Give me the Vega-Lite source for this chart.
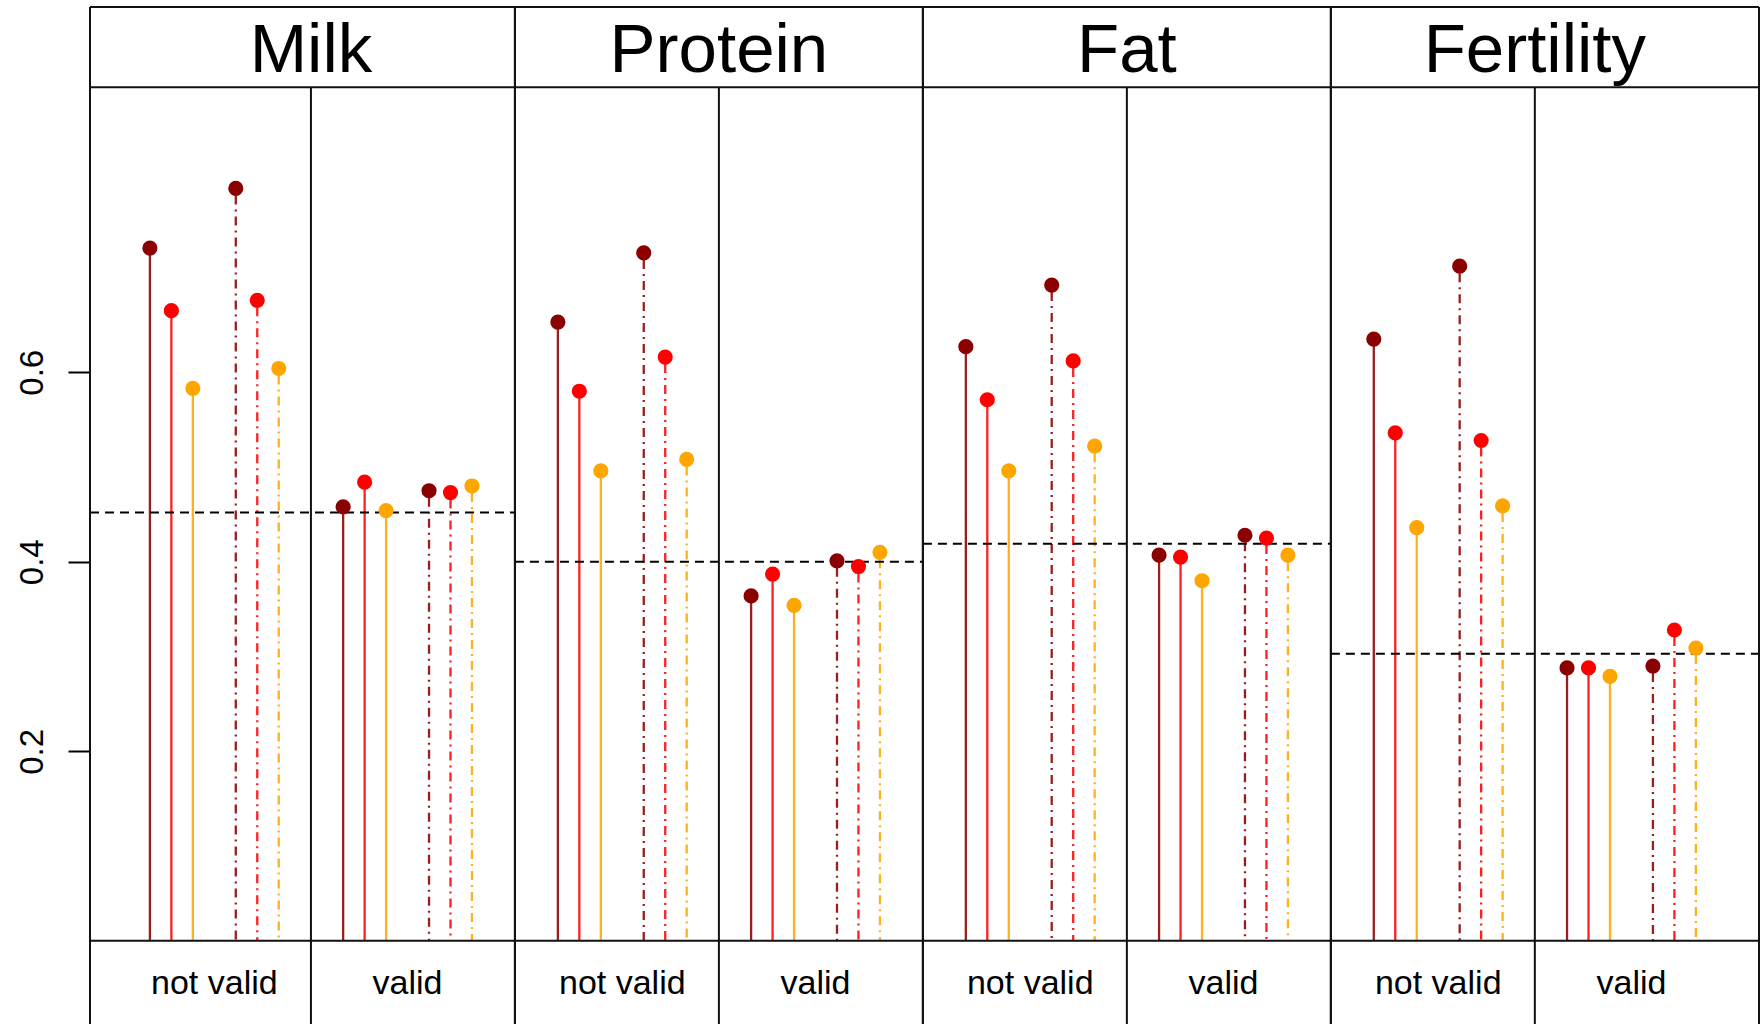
{
  "$schema": "https://vega.github.io/schema/vega-lite/v6.json",
  "width": 1699,
  "height": 1017,
  "autosize": {"type": "none"},
  "padding": {"left": 60, "top": 7, "right": 2, "bottom": 0},
  "background": "white",
  "config": {
    "view": {"stroke": null},
    "font": "Liberation Sans",
    "axisY": {"title": null, "domain": false, "grid": false, "ticks": true, "tickSize": 22, "tickWidth": 2, "tickColor": "black", "offset": -30,
      "labelAngle": -90, "labelAlign": "center", "labelBaseline": "alphabetic", "labelPadding": 26, "labelFontSize": 33, "labelFont": "Liberation Sans", "labelColor": "black", "format": ".1f", "labelOverlap": false, "labelBound": false, "labelFlush": false}
  },
  "datasets": {
    "points": [
      {"trait": "Milk", "set": "not valid", "method": "M1", "scenario": "S1", "x": 3, "value": 0.731},
      {"trait": "Milk", "set": "not valid", "method": "M2", "scenario": "S1", "x": 4, "value": 0.665},
      {"trait": "Milk", "set": "not valid", "method": "M3", "scenario": "S1", "x": 5, "value": 0.583},
      {"trait": "Milk", "set": "not valid", "method": "M1", "scenario": "S2", "x": 7, "value": 0.794},
      {"trait": "Milk", "set": "not valid", "method": "M2", "scenario": "S2", "x": 8, "value": 0.676},
      {"trait": "Milk", "set": "not valid", "method": "M3", "scenario": "S2", "x": 9, "value": 0.604},
      {"trait": "Milk", "set": "valid", "method": "M1", "scenario": "S1", "x": 12, "value": 0.458},
      {"trait": "Milk", "set": "valid", "method": "M2", "scenario": "S1", "x": 13, "value": 0.484},
      {"trait": "Milk", "set": "valid", "method": "M3", "scenario": "S1", "x": 14, "value": 0.454},
      {"trait": "Milk", "set": "valid", "method": "M1", "scenario": "S2", "x": 16, "value": 0.475},
      {"trait": "Milk", "set": "valid", "method": "M2", "scenario": "S2", "x": 17, "value": 0.473},
      {"trait": "Milk", "set": "valid", "method": "M3", "scenario": "S2", "x": 18, "value": 0.480},
      {"trait": "Protein", "set": "not valid", "method": "M1", "scenario": "S1", "x": 22, "value": 0.653},
      {"trait": "Protein", "set": "not valid", "method": "M2", "scenario": "S1", "x": 23, "value": 0.580},
      {"trait": "Protein", "set": "not valid", "method": "M3", "scenario": "S1", "x": 24, "value": 0.496},
      {"trait": "Protein", "set": "not valid", "method": "M1", "scenario": "S2", "x": 26, "value": 0.726},
      {"trait": "Protein", "set": "not valid", "method": "M2", "scenario": "S2", "x": 27, "value": 0.616},
      {"trait": "Protein", "set": "not valid", "method": "M3", "scenario": "S2", "x": 28, "value": 0.508},
      {"trait": "Protein", "set": "valid", "method": "M1", "scenario": "S1", "x": 31, "value": 0.364},
      {"trait": "Protein", "set": "valid", "method": "M2", "scenario": "S1", "x": 32, "value": 0.387},
      {"trait": "Protein", "set": "valid", "method": "M3", "scenario": "S1", "x": 33, "value": 0.354},
      {"trait": "Protein", "set": "valid", "method": "M1", "scenario": "S2", "x": 35, "value": 0.401},
      {"trait": "Protein", "set": "valid", "method": "M2", "scenario": "S2", "x": 36, "value": 0.395},
      {"trait": "Protein", "set": "valid", "method": "M3", "scenario": "S2", "x": 37, "value": 0.410},
      {"trait": "Fat", "set": "not valid", "method": "M1", "scenario": "S1", "x": 41, "value": 0.627},
      {"trait": "Fat", "set": "not valid", "method": "M2", "scenario": "S1", "x": 42, "value": 0.571},
      {"trait": "Fat", "set": "not valid", "method": "M3", "scenario": "S1", "x": 43, "value": 0.496},
      {"trait": "Fat", "set": "not valid", "method": "M1", "scenario": "S2", "x": 45, "value": 0.692},
      {"trait": "Fat", "set": "not valid", "method": "M2", "scenario": "S2", "x": 46, "value": 0.612},
      {"trait": "Fat", "set": "not valid", "method": "M3", "scenario": "S2", "x": 47, "value": 0.522},
      {"trait": "Fat", "set": "valid", "method": "M1", "scenario": "S1", "x": 50, "value": 0.407},
      {"trait": "Fat", "set": "valid", "method": "M2", "scenario": "S1", "x": 51, "value": 0.405},
      {"trait": "Fat", "set": "valid", "method": "M3", "scenario": "S1", "x": 52, "value": 0.380},
      {"trait": "Fat", "set": "valid", "method": "M1", "scenario": "S2", "x": 54, "value": 0.428},
      {"trait": "Fat", "set": "valid", "method": "M2", "scenario": "S2", "x": 55, "value": 0.425},
      {"trait": "Fat", "set": "valid", "method": "M3", "scenario": "S2", "x": 56, "value": 0.407},
      {"trait": "Fertility", "set": "not valid", "method": "M1", "scenario": "S1", "x": 60, "value": 0.635},
      {"trait": "Fertility", "set": "not valid", "method": "M2", "scenario": "S1", "x": 61, "value": 0.536},
      {"trait": "Fertility", "set": "not valid", "method": "M3", "scenario": "S1", "x": 62, "value": 0.436},
      {"trait": "Fertility", "set": "not valid", "method": "M1", "scenario": "S2", "x": 64, "value": 0.712},
      {"trait": "Fertility", "set": "not valid", "method": "M2", "scenario": "S2", "x": 65, "value": 0.528},
      {"trait": "Fertility", "set": "not valid", "method": "M3", "scenario": "S2", "x": 66, "value": 0.459},
      {"trait": "Fertility", "set": "valid", "method": "M1", "scenario": "S1", "x": 69, "value": 0.288},
      {"trait": "Fertility", "set": "valid", "method": "M2", "scenario": "S1", "x": 70, "value": 0.288},
      {"trait": "Fertility", "set": "valid", "method": "M3", "scenario": "S1", "x": 71, "value": 0.279},
      {"trait": "Fertility", "set": "valid", "method": "M1", "scenario": "S2", "x": 73, "value": 0.290},
      {"trait": "Fertility", "set": "valid", "method": "M2", "scenario": "S2", "x": 74, "value": 0.328},
      {"trait": "Fertility", "set": "valid", "method": "M3", "scenario": "S2", "x": 75, "value": 0.309}
    ],
    "panels": [
      {"trait": "Milk", "from": 0.21, "to": 20, "ref": 0.452},
      {"trait": "Protein", "from": 20, "to": 39, "ref": 0.400},
      {"trait": "Fat", "from": 39, "to": 58, "ref": 0.419},
      {"trait": "Fertility", "from": 58, "to": 77.94, "ref": 0.303}
    ]
  },
  "layer": [
    {
      "data": {"name": "points"},
      "mark": {"type": "rule", "strokeWidth": 2.3, "strokeOpacity": 0.88},
      "encoding": {
        "x": {"field": "x", "type": "quantitative", "scale": {"domain": [-1.187, 77.94], "nice": false, "zero": false}, "axis": null},
        "y": {"field": "value", "type": "quantitative", "scale": {"domain": [-0.0878, 0.9855], "nice": false, "zero": false},
          "axis": {"title": null, "values": [0.2, 0.4, 0.6], "offset": -30, "ticks": true, "tickSize": 22, "tickWidth": 2, "tickColor": "black"}},
        "y2": {"datum": 0},
        "color": {"field": "method", "type": "nominal", "scale": {"domain": ["M1", "M2", "M3"], "range": ["#8b0000", "#ff0000", "#ffa500"]}, "legend": null},
        "strokeDash": {"field": "scenario", "type": "nominal", "scale": {"domain": ["S1", "S2"], "range": [[1, 0], [2, 5, 9, 5]]}, "legend": null}
      }
    },
    {
      "data": {"name": "panels"},
      "mark": {"type": "rule", "strokeWidth": 2, "color": "black", "strokeDash": [9, 6]},
      "encoding": {
        "x": {"field": "from", "type": "quantitative", "axis": null},
        "x2": {"field": "to"},
        "y": {"field": "ref", "type": "quantitative", "axis": {"title": null}}
      }
    },
    {
      "data": {"name": "panels"},
      "mark": {"type": "rule", "strokeWidth": 2, "color": "#111"},
      "encoding": {
        "x": {"field": "to", "type": "quantitative", "axis": null},
        "y": {"datum": -0.0878, "type": "quantitative", "axis": {"title": null}},
        "y2": {"datum": 0.9855}
      }
    },
    {
      "data": {"name": "panels"},
      "mark": {"type": "rule", "strokeWidth": 2, "color": "#111"},
      "encoding": {
        "x": {"field": "from", "type": "quantitative", "axis": null},
        "y": {"datum": -0.0878, "type": "quantitative", "axis": {"title": null}},
        "y2": {"datum": 0.9855}
      }
    },
    {
      "data": {"name": "panels"},
      "mark": {"type": "rule", "strokeWidth": 2, "color": "#111"},
      "encoding": {
        "x": {"field": "from", "type": "quantitative", "axis": null},
        "x2": {"field": "to"},
        "y": {"datum": 0.9855, "type": "quantitative", "axis": {"title": null}}
      }
    },
    {
      "data": {"name": "panels"},
      "mark": {"type": "rule", "strokeWidth": 2, "color": "#111"},
      "encoding": {
        "x": {"field": "from", "type": "quantitative", "axis": null},
        "x2": {"field": "to"},
        "y": {"datum": 0.9008, "type": "quantitative", "axis": {"title": null}}
      }
    },
    {
      "data": {"name": "panels"},
      "mark": {"type": "rule", "strokeWidth": 2, "color": "#111"},
      "encoding": {
        "x": {"field": "from", "type": "quantitative", "axis": null},
        "x2": {"field": "to"},
        "y": {"datum": 0, "type": "quantitative", "axis": {"title": null}}
      }
    },
    {
      "data": {"name": "points"},
      "transform": [{"aggregate": [{"op": "mean", "field": "x", "as": "xm"}], "groupby": ["trait"]}],
      "mark": {"type": "rule", "strokeWidth": 2, "color": "#111"},
      "encoding": {
        "x": {"field": "xm", "type": "quantitative", "axis": null},
        "y": {"datum": -0.0878, "type": "quantitative", "axis": {"title": null}},
        "y2": {"datum": 0.9008}
      }
    },
    {
      "data": {"name": "points"},
      "mark": {"type": "point", "filled": true, "opacity": 1, "size": 230, "shape": "circle"},
      "encoding": {
        "x": {"field": "x", "type": "quantitative", "axis": null},
        "y": {"field": "value", "type": "quantitative", "axis": {"title": null}},
        "color": {"field": "method", "type": "nominal", "legend": null}
      }
    },
    {
      "data": {"name": "points"},
      "transform": [{"aggregate": [{"op": "mean", "field": "x", "as": "xm"}], "groupby": ["trait"]}],
      "mark": {"type": "text", "fontSize": 69, "font": "Liberation Sans", "align": "center", "baseline": "alphabetic", "color": "black"},
      "encoding": {
        "x": {"field": "xm", "type": "quantitative", "axis": null},
        "y": {"datum": 0.9173, "type": "quantitative", "axis": {"title": null}},
        "text": {"field": "trait"}
      }
    },
    {
      "data": {"name": "points"},
      "transform": [{"aggregate": [{"op": "mean", "field": "x", "as": "xm"}], "groupby": ["trait", "set"]}],
      "mark": {"type": "text", "fontSize": 34, "font": "Liberation Sans", "align": "center", "baseline": "alphabetic", "color": "black"},
      "encoding": {
        "x": {"field": "xm", "type": "quantitative", "axis": null},
        "y": {"datum": -0.0561, "type": "quantitative", "axis": {"title": null}},
        "text": {"field": "set"}
      }
    }
  ]
}
